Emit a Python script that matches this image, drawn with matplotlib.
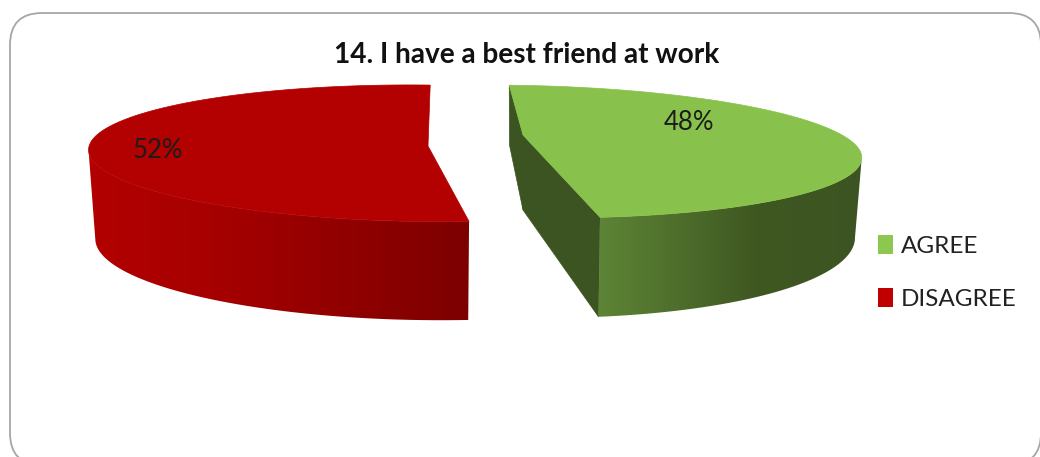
import numpy as np
from matplotlib import pyplot as plt
from matplotlib.colors import LinearSegmentedColormap
from matplotlib.patches import FancyBboxPatch, Patch, Polygon

title = '14. I have a best friend at work'
labels = ['AGREE', 'DISAGREE']
values = [48, 52]

top_colors = ['#88c14b', '#b30000']
swatch_colors = ['#8cc850', '#c00000']

plt.rcParams['font.family'] = ['Lato', 'DejaVu Sans']

fig = plt.figure(figsize=(10.4, 4.57), dpi=100)
ax = fig.add_axes([0, 0, 1, 1])
ax.set_xlim(0, 1040)
ax.set_ylim(457, 0)
ax.axis('off')

# Rounded chart border, runs off the bottom and right edges.
ax.add_patch(FancyBboxPatch((42, 45), 967, 388, boxstyle='round,pad=32,rounding_size=32',
                            facecolor='white', edgecolor='#a6a6a6', linewidth=1.3, zorder=0))

BOTTOM_SCALE = 0.98


def project(cx, cy, angles, shape, bottom=False):
    # Map rim angles (degrees) onto the screen, the near side comes out larger.
    ux = np.cos(np.radians(angles))
    uy = np.sin(np.radians(angles))
    w = 1 + shape['tilt'] * uy
    dx = shape['rx'] * ux / w
    skew = shape['shear'] * dx
    if bottom:
        return np.column_stack([cx + BOTTOM_SCALE * dx, cy + skew + (shape['depth'] - shape['ry'] * uy) / w])
    return np.column_stack([cx + dx, cy + skew - shape['ry'] * uy / w])


def draw_slice(cx, cy, start, end, notch, shape, top_color, wall_stops, x_range, label_pos, text, faces=False):
    rim = np.linspace(start, end, 300)
    top = project(cx, cy, rim, shape)
    low = project(cx, cy, rim, shape, bottom=True)
    notch_low = [notch[0], notch[1] + shape['depth']]

    # Cut faces meeting at the centre, only seen on the slice that opens towards the viewer.
    if faces:
        for rim_i in (0, -1):
            face = [top[rim_i], notch, notch_low, low[rim_i]]
            ax.add_patch(Polygon(face, closed=True, facecolor=wall_stops[-1][1],
                                 edgecolor=wall_stops[-1][1], linewidth=0.5, zorder=2))

    # Outer wall, shaded left to right; only the near part of the rim shows.
    near = np.sin(np.radians(rim)) <= -shape['tilt']
    wall = np.vstack([top[near], low[near][::-1]])
    cmap = LinearSegmentedColormap.from_list('wall', wall_stops)
    grad = np.linspace(0, 1, 256).reshape(1, -1)
    img = ax.imshow(grad, cmap=cmap, extent=[x_range[0], x_range[1], 340, 60],
                    aspect='auto', zorder=3, interpolation='bilinear')
    clip = Polygon(wall, closed=True, transform=ax.transData, facecolor='none', edgecolor='none')
    ax.add_patch(clip)
    img.set_clip_path(clip)

    # Flat top of the slice.
    outline = np.vstack([top, [notch]])
    ax.add_patch(Polygon(outline, closed=True, facecolor=top_color, edgecolor=top_color,
                         linewidth=0.5, zorder=4))
    ax.text(label_pos[0], label_pos[1], text, ha='center', va='center', fontsize=18.5,
            color='#1c1c1c', zorder=5)


agree_span = values[0] / sum(values) * 360
disagree_span = values[1] / sum(values) * 360

green_shape = {'rx': 328, 'ry': 62, 'depth': 75, 'tilt': 0.25, 'shear': 0.018}
red_shape = {'rx': 336, 'ry': 67.5, 'depth': 88, 'tilt': 0.107, 'shear': 0.01}
green_wall = [(0.0, '#5f8737'), (0.6, '#3f5822'), (1.0, '#3c5421')]
red_wall = [(0.0, '#b30000'), (0.3, '#a80000'), (1.0, '#7d0000')]

# The agree slice runs clockwise from the top, the disagree slice counter-clockwise.
draw_slice(523, 135, 93, 93 - agree_span, (523, 135), green_shape, top_colors[0], green_wall,
           (590, 865), (689, 123), f'{values[0]}%', faces=True)
draw_slice(426.5, 146, 89.3, 89.3 + disagree_span, (428, 146), red_shape, top_colors[1], red_wall,
           (85, 470), (158, 151), f'{values[1]}%')

ax.text(527, 55, title, ha='center', va='center', fontsize=20.2, fontweight='bold', color='#111111')

handles = [Patch(facecolor=c, edgecolor='none') for c in swatch_colors]
leg = ax.legend(handles, labels, loc='upper left', bbox_to_anchor=(878, 235),
                bbox_transform=ax.transData, frameon=False, fontsize=17.5,
                handlelength=0.62, handleheight=0.8, handletextpad=0.33,
                labelspacing=1.3, borderpad=0, borderaxespad=0)
for t in leg.get_texts():
    t.set_color('#222222')

plt.savefig('out.png', dpi=100)
